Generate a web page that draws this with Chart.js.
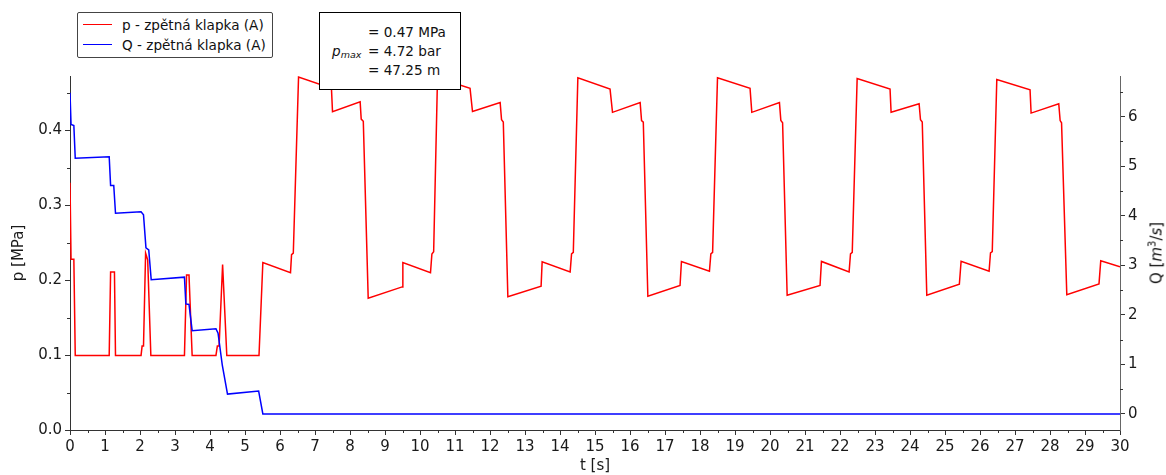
<!DOCTYPE html>
<html>
<head>
<meta charset="utf-8">
<script src="https://cdn.jsdelivr.net/npm/chart.js@4.4.1/dist/chart.umd.min.js"></script>
<style>
  html, body { margin: 0; padding: 0; background: #fff; }
  #wrap { position: relative; width: 1166px; height: 475px; font-family: "DejaVu Sans", sans-serif; color: #111; }
  #plot { position: absolute; left: 0; top: 0; }
  .legend { position: absolute; left: 77px; top: 12px; width: 194px; height: 44px; border: 1px solid #444; border-radius: 2px; background: #fff; font-size: 13.6px; }
  .legend .row { position: absolute; left: 0; height: 18px; line-height: 18px; white-space: nowrap; }
  .legend .swatch { position: absolute; left: 5px; top: 8px; width: 29px; height: 0; border-top: 1.5px solid; }
  .legend .txt { position: absolute; left: 44px; top: 0; }
  .note { position: absolute; left: 319px; top: 12px; width: 140px; height: 76px; border: 1.5px solid #000; background: #fff; font-size: 13.6px; }
  .note .ln { position: absolute; left: 48px; height: 19px; line-height: 19px; white-space: nowrap; }
  .note .pm { position: absolute; left: 12px; top: 29px; height: 19px; line-height: 19px; font-style: italic; white-space: nowrap; }
  .note .pm sub { font-size: 9.5px; vertical-align: -2px; }
  .ytitle2 { position: absolute; left: 1156px; top: 253px; transform: translate(-50%, -50%) rotate(-90deg); font-size: 15px; white-space: nowrap; }
  .ytitle2 sup { font-size: 10px; vertical-align: 6px; }
</style>
</head>
<body>
<div id="wrap">
  <canvas id="plot" width="1166" height="475"></canvas>

  <div class="legend">
    <div class="row" style="top:3px"><span class="swatch" style="border-color:#ff0000"></span><span class="txt">p - zpětná klapka (A)</span></div>
    <div class="row" style="top:23px"><span class="swatch" style="border-color:#0000ff"></span><span class="txt">Q - zpětná klapka (A)</span></div>
  </div>

  <div class="note">
    <div class="ln" style="top:10px">= 0.47 MPa</div>
    <div class="pm">p<sub>max</sub></div>
    <div class="ln" style="top:29px">= 4.72 bar</div>
    <div class="ln" style="top:48px">= 47.25 m</div>
  </div>

  <div class="ytitle2">Q [<i>m</i><sup>3</sup>/<i>s</i>]</div>
</div>

<script>
/* ---- data ---- */

// pressure p [MPa] vs time t [s]
const pTime = [
  0.00, 0.03, 0.11, 0.15, 1.12, 1.16, 1.27, 1.30, 2.03, 2.06, 2.10, 2.16, 2.22, 2.31,
  3.27, 3.33, 3.40, 3.49, 4.17, 4.21, 4.26, 4.36, 4.48, 5.40, 5.51,
  6.30, 6.33, 6.38, 6.53, 7.47, 7.50, 8.29, 8.32, 8.38, 8.52, 9.49, 9.51,
  10.30, 10.34, 10.39, 10.50, 11.43, 11.50, 12.29, 12.33, 12.38, 12.51, 13.46, 13.49,
  14.29, 14.33, 14.38, 14.51, 15.43, 15.50, 16.29, 16.33, 16.38, 16.51, 17.43, 17.47,
  18.27, 18.31, 18.36, 18.50, 19.43, 19.48, 20.27, 20.31, 20.36, 20.49, 21.43, 21.47,
  22.26, 22.30, 22.35, 22.49, 23.43, 23.46, 24.26, 24.30, 24.35, 24.48, 25.41, 25.46,
  26.26, 26.30, 26.35, 26.48, 27.43, 27.46, 28.25, 28.29, 28.33, 28.48, 29.40, 29.45,
  30.00
];
const pValues = [
  0.330, 0.228, 0.228, 0.0995, 0.0995, 0.211, 0.211, 0.0995, 0.0995, 0.112, 0.112, 0.236, 0.227, 0.0995,
  0.0995, 0.207, 0.207, 0.0995, 0.0995, 0.112, 0.112, 0.221, 0.0995, 0.0995, 0.2236,
  0.210, 0.234, 0.236, 0.471, 0.456, 0.425, 0.438, 0.415, 0.412, 0.176, 0.191, 0.2236,
  0.210, 0.235, 0.238, 0.470, 0.456, 0.425, 0.437, 0.414, 0.411, 0.178, 0.192, 0.2245,
  0.211, 0.235, 0.237, 0.470, 0.455, 0.424, 0.437, 0.413, 0.411, 0.1785, 0.193, 0.2248,
  0.212, 0.235, 0.237, 0.470, 0.456, 0.424, 0.437, 0.413, 0.410, 0.180, 0.193, 0.2250,
  0.211, 0.235, 0.237, 0.469, 0.455, 0.424, 0.4355, 0.414, 0.411, 0.180, 0.1945, 0.2253,
  0.212, 0.2365, 0.238, 0.4677, 0.454, 0.423, 0.4355, 0.413, 0.410, 0.1807, 0.195, 0.2258,
  0.2178
];

// flow Q [m3/s] vs time t [s]
const qTime = [
  0.00, 0.03, 0.11, 0.15, 1.12, 1.16, 1.25, 1.30, 2.03, 2.10, 2.17, 2.25, 2.32,
  3.27, 3.31, 3.40, 3.49, 4.17, 4.23, 4.35, 4.50, 5.39, 5.51, 30.00
];
const qValues = [
  6.48, 5.84, 5.82, 5.16, 5.19, 4.61, 4.61, 4.05, 4.08, 4.02, 3.35, 3.31, 2.71,
  2.76, 2.22, 2.21, 1.68, 1.72, 1.63, 0.99, 0.40, 0.46, 0.00, 0.00
];

// axis limits
const T_MIN = 0, T_MAX = 30;
const P_MIN = 0, P_MAX = 0.4725;
const Q_MIN = -0.325, Q_MAX = 6.82;

/* ---- styling ---- */
const FONT = "DejaVu Sans";
const AXIS = "#333";
const LABEL = "#1a1a1a";

/* minor ticks: drawn through the chart scales */
const minorTicks = {
  id: "minorTicks",
  afterDraw(chart) {
    const { ctx } = chart;
    const { x, y, y2 } = chart.scales;
    ctx.save();
    ctx.strokeStyle = AXIS;
    ctx.lineWidth = 1;
    ctx.beginPath();
    for (let i = 0; i < 30; i++) {
      const px = Math.round(x.getPixelForValue(i + 0.5)) + 0.5;
      ctx.moveTo(px, x.top);
      ctx.lineTo(px, x.top + 3);
    }
    for (let i = 0; i < 5; i++) {
      const py = Math.round(y.getPixelForValue(i * 0.1 + 0.05)) + 0.5;
      ctx.moveTo(y.right, py);
      ctx.lineTo(y.right - 3, py);
    }
    for (let i = 0; i < 7; i++) {
      const py = Math.round(y2.getPixelForValue(i + 0.5)) + 0.5;
      ctx.moveTo(y2.left, py);
      ctx.lineTo(y2.left + 3, py);
    }
    ctx.stroke();
    ctx.restore();
  }
};

const pPoints = pTime.map((t, i) => ({ x: t, y: pValues[i] }));
const qPoints = qTime.map((t, i) => ({ x: t, y: qValues[i] }));

const tickFont = { family: FONT, size: 15 };
const grid = { drawOnChartArea: false, drawTicks: true, tickLength: 5, tickColor: AXIS, tickWidth: 1 };

new Chart(document.getElementById("plot").getContext("2d"), {
  type: "line",
  data: {
    datasets: [
      { label: "p - zpětná klapka (A)", data: pPoints, yAxisID: "y", borderColor: "#ff0000",
        borderWidth: 1.5, pointRadius: 0, tension: 0, fill: false, order: 1 },
      { label: "Q - zpětná klapka (A)", data: qPoints, yAxisID: "y2", borderColor: "#0000ff",
        borderWidth: 1.5, pointRadius: 0, tension: 0, fill: false, order: 0 }
    ]
  },
  options: {
    responsive: false,
    animation: false,
    events: [],
    layout: { padding: { top: 76, left: 0, right: 0, bottom: 0 } },
    plugins: { legend: { display: false }, tooltip: { enabled: false } },
    scales: {
      x: {
        type: "linear", min: T_MIN, max: T_MAX,
        afterFit: s => { s.height = 45; },
        ticks: { stepSize: 1, autoSkip: false, maxRotation: 0, padding: 3, color: LABEL, font: tickFont },
        grid: grid,
        border: { display: true, color: AXIS, width: 1 },
        title: { display: true, text: "t [s]", color: LABEL, font: tickFont, padding: { top: 0, bottom: 0 } }
      },
      y: {
        type: "linear", position: "left", min: P_MIN, max: P_MAX,
        afterFit: s => { s.width = 70; },
        ticks: { stepSize: 0.1, includeBounds: false, padding: 3, color: LABEL, font: tickFont,
          callback: v => v.toFixed(1) },
        grid: grid,
        border: { display: true, color: AXIS, width: 1 },
        title: { display: true, text: "p [MPa]", color: LABEL, font: tickFont, padding: { top: 10, bottom: 0 } }
      },
      y2: {
        type: "linear", position: "right", min: Q_MIN, max: Q_MAX,
        afterFit: s => { s.width = 46; },
        ticks: { stepSize: 1, includeBounds: false, padding: 3, color: LABEL, font: tickFont,
          callback: v => String(Math.round(v)) },
        grid: grid,
        border: { display: true, color: "#666", width: 1 }
      }
    }
  },
  plugins: [minorTicks]
});
</script>
</body>
</html>
